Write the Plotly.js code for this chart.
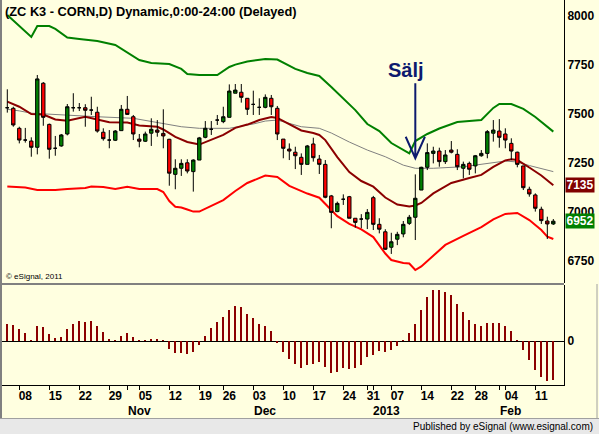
<!DOCTYPE html>
<html><head><meta charset="utf-8">
<script src="https://cdn.plot.ly/plotly-3.0.1.min.js"></script>
<style>html,body{margin:0;padding:0;background:#FFFFE0;}#chart{width:599px;height:434px;}</style>
</head><body><div id="chart"></div>
<script>
// ---- DATA (daily ZC K3 candles, index 0 = Oct 3 2012 ... 91 = Feb 13 2013) ----
const opens  = [7531,7528,7426,7366,7361,7329,7656,7446,7324,7336,7397,7531,7531,7531,7519,7508,7406,7366,7365,7414,7523,7485,7371,7360,7401,7417,7400,7370,7191,7222,7250,7205,7264,7380,7421,7468,7460,7482,7605,7610,7579,7548,7533,7533,7579,7528,7371,7320,7304,7278,7242,7346,7269,7242,7081,7001,7064,7077,6967,6963,6963,7072,6936,6898,6819,6860,6887,6941,6972,7111,7227,7298,7310,7256,7315,7293,7222,7247,7234,7286,7298,7401,7412,7397,7349,7304,7234,7115,7086,7013,6953,6938];
const highs  = [7625,7536,7434,7428,7380,7698,7662,7450,7387,7397,7550,7605,7555,7549,7587,7536,7426,7417,7417,7545,7591,7494,7397,7409,7477,7468,7523,7372,7268,7268,7268,7268,7382,7463,7463,7494,7536,7650,7652,7652,7579,7618,7579,7599,7596,7540,7371,7349,7332,7298,7341,7378,7290,7264,7086,7052,7089,7081,6967,6988,7014,7081,6967,6911,6893,6898,6953,6984,7191,7230,7349,7332,7327,7315,7361,7319,7256,7256,7290,7315,7417,7468,7473,7426,7375,7307,7234,7128,7094,7026,6975,6963];
const lows   = [7506,7434,7349,7353,7281,7293,7439,7271,7286,7332,7390,7511,7514,7434,7494,7404,7363,7324,7361,7414,7494,7366,7329,7356,7336,7383,7324,7133,7115,7183,7196,7103,7264,7375,7392,7443,7452,7482,7605,7557,7494,7494,7494,7528,7494,7366,7273,7264,7218,7188,7242,7256,7193,7069,6916,6998,7035,6967,6919,6916,6912,6907,6890,6805,6785,6830,6870,6933,6856,7111,7213,7247,7230,7244,7298,7213,7171,7188,7196,7281,7273,7358,7327,7324,7264,7227,7111,7077,7001,6938,6861,6933];
const closes = [7531,7443,7366,7366,7329,7678,7482,7319,7324,7392,7536,7531,7531,7518,7519,7412,7373,7366,7412,7523,7497,7397,7360,7397,7421,7406,7387,7197,7222,7247,7208,7264,7377,7426,7421,7468,7485,7616,7621,7584,7523,7548,7533,7584,7536,7397,7324,7310,7286,7242,7336,7276,7242,7074,6997,7043,7064,6967,6946,6963,6997,6936,6911,6809,6847,6885,6936,6972,7069,7227,7302,7310,7256,7290,7304,7230,7242,7217,7286,7298,7409,7417,7380,7366,7310,7242,7123,7091,7018,6955,6938,6952];

// Upper band (green), read at these candle indices
const upperIdx = [0,4,5,7,8,10,12,15,18,21,22,24,27,29,30,32,35,37,38,40,43,45,48,50,52,54,56,58,60,62,64,66,67,68,70,72,75,78,79,81,82,84,86,88,90,91];
const upperVal = [8004,7892,7948,7948,7933,7889,7882,7871,7851,7795,7774,7759,7754,7729,7703,7698,7698,7739,7751,7767,7780,7777,7729,7708,7693,7637,7576,7519,7448,7412,7351,7313,7298,7361,7397,7425,7458,7466,7468,7530,7550,7550,7525,7484,7433,7409];
// Lower band (red)
const lowerIdx = [0,3,5,8,10,13,14,16,18,20,22,25,26,27,28,29,30,31,32,34,36,38,40,43,45,47,50,52,53,55,57,59,61,63,64,66,67,68,69,71,73,76,79,81,83,85,87,89,90,91];
const lowerVal = [7129,7124,7111,7111,7116,7121,7129,7127,7116,7128,7116,7116,7101,7055,7026,7022,7012,7001,7001,7030,7060,7106,7147,7185,7178,7132,7093,7072,7040,6978,6938,6910,6871,6787,6754,6739,6736,6703,6721,6774,6831,6877,6922,6961,6989,6994,6958,6907,6873,6861];
// Middle average (maroon)
const midIdx = [0,2,4,6,8,10,13,15,17,20,22,25,26,28,30,32,34,36,38,40,42,44,45,47,49,51,52,53,55,57,59,61,63,65,67,68,69,71,74,77,79,81,83,84,85,87,89,91];
const midVal = [7562,7536,7499,7496,7471,7465,7485,7471,7457,7455,7440,7434,7420,7382,7356,7343,7366,7392,7428,7445,7468,7484,7479,7445,7415,7402,7392,7366,7279,7203,7157,7128,7073,7037,7027,7032,7045,7094,7147,7172,7188,7229,7262,7268,7264,7226,7185,7135];
// Slow average (grey)
const slowIdx = [0,2,4,7,10,15,21,26,29,32,37,41,43,45,49,52,54,57,60,63,66,68,71,76,80,83,85,87,91];
const slowVal = [7523,7515,7503,7498,7490,7485,7477,7451,7434,7426,7426,7448,7463,7468,7434,7426,7402,7356,7315,7281,7238,7222,7222,7230,7247,7259,7254,7236,7205];

// Oscillator histogram (lower panel), one value per candle
const oscVal = [50,47,35,23,5,44,41,20,11,14,35,50,59,56,59,44,26,8,5,17,23,14,5,5,8,8,5,-24,-36,-36,-39,-33,-10,17,38,56,71,92,104,101,80,68,50,44,29,-4,-33,-54,-69,
  -80,-70,-67,-62,-77,-93,-90,-80,-81,-80,-70,-48,-40,-30,-33,-27,-15,5,23,50,92,131,152,152,146,137,110,86,62,50,44,53,55,53,44,29,5,-27,-57,-85,-105,-117,-115];

// Axis labels
const tickIdx  = [3,8,13,18,23,28,33,37,42,47,52,57,61,65,70,75,79,84,89];
const tickText = ['08','15','22','29','05','12','19','26','03','10','17','24','31','07','14','22','28','04','11'];
const weekTickIdx = [2,7,12,17,20,22,27,32,36,41,46,51,56,60,61,64,69,74,78,82,83,88];
const monthLabels = ['Nov','Dec','2013','Feb'];
const monthIdx = [22,43,63.2,83.9];
const priceTicks = [6750,7000,7250,7500,7750,8000];

// ---- LAYOUT helpers ----
const W=599,H=434,ML=2,MR=35,MT=0,MB=49;
const PW=W-ML-MR, PH=H-MT-MB;
const px = x => (x-ML)/PW;
const py = y => (PH+MT-y)/PH;
const FONT = 'Arial, "Liberation Sans", sans-serif';
const idx = opens.map((_,i)=>i);

const traces = [
  {type:'scatter',mode:'lines',x:slowIdx,y:slowVal,line:{color:'#808080',width:1},xaxis:'x',yaxis:'y',hoverinfo:'skip'},
  {type:'scatter',mode:'lines',x:upperIdx,y:upperVal,line:{color:'#008000',width:2},xaxis:'x',yaxis:'y',hoverinfo:'skip'},
  {type:'scatter',mode:'lines',x:lowerIdx,y:lowerVal,line:{color:'#FF0000',width:2},xaxis:'x',yaxis:'y',hoverinfo:'skip'},
  {type:'scatter',mode:'lines',x:midIdx,y:midVal,line:{color:'#8B0000',width:2},xaxis:'x',yaxis:'y',hoverinfo:'skip'},
  {type:'candlestick',x:idx,open:opens,high:highs,low:lows,close:closes,xaxis:'x',yaxis:'y3',
   increasing:{line:{color:'#000000',width:1},fillcolor:'#008000'},
   decreasing:{line:{color:'#000000',width:1},fillcolor:'#FF0000'},whiskerwidth:0,hoverinfo:'skip'},
  {type:'bar',x:idx,y:oscVal,width:0.34,marker:{color:'#8B0000',line:{width:0}},xaxis:'x',yaxis:'y2',hoverinfo:'skip'}
];

const yMain=[6636.7,8080.6];
const lastMid = midVal[midVal.length-1], lastClose = closes[closes.length-1];
const sig = {idx:68, top:7656, tip:7273, arm:7383, armDx:1.6, textIdx:66.4, textPrice:7723};

const layout = {
  width:W,height:H,margin:{l:ML,r:MR,t:MT,b:MB,pad:0},
  paper_bgcolor:'#FFFFE0',plot_bgcolor:'#FFFFE0',showlegend:false,boxgap:0.2,bargap:0,
  font:{family:FONT,color:'#000'},
  xaxis:{range:[-0.883,92.78],anchor:'y2',showgrid:false,zeroline:false,showline:true,linecolor:'#000',linewidth:1,
    tickmode:'array',tickvals:tickIdx,ticktext:tickText,ticks:'',tickfont:{family:FONT,size:12,weight:700,color:'#000'},
    minor:{tickmode:'array',tickvals:weekTickIdx,ticks:'outside',ticklen:4,tickcolor:'#000',tickwidth:1,showgrid:false},
    rangeslider:{visible:false},fixedrange:true},
  yaxis:{domain:[py(283),1],range:yMain,side:'right',showgrid:false,zeroline:false,showline:true,linecolor:'#000',linewidth:1,
    tickmode:'array',tickvals:priceTicks,ticks:'',tickfont:{family:FONT,size:12,weight:700,color:'#000'}},
  yaxis3:{overlaying:'y',range:yMain,visible:false},
  yaxis2:{domain:[0,py(285)],range:[-130,167],side:'right',showgrid:false,showline:true,linecolor:'#000',linewidth:1,
    zeroline:true,zerolinecolor:'#000',zerolinewidth:1,
    tickmode:'array',tickvals:[0],ticks:'',tickfont:{family:FONT,size:12,weight:700,color:'#000'}},
  shapes:[
    {type:'line',xref:'paper',yref:'paper',x0:px(0),x1:px(564),y0:py(284),y1:py(284),line:{color:'#808080',width:2}},
    {type:'line',xref:'paper',yref:'paper',x0:px(1),x1:px(1),y0:py(0),y1:py(418),line:{color:'#808080',width:2}},
    {type:'rect',xref:'paper',yref:'paper',x0:px(0),x1:px(599),y0:py(419),y1:py(434),fillcolor:'#E8E8E8',line:{width:0}},
    {type:'line',xref:'paper',yref:'paper',x0:px(0),x1:px(599),y0:py(418.5),y1:py(418.5),line:{color:'#A0A0A0',width:1}},
    {type:'line',xref:'paper',yref:'paper',x0:px(597),x1:px(597),y0:py(284),y1:py(418),line:{color:'#A0A0A0',width:1}},
    {type:'path',xref:'x',yref:'y',
     path:`M${sig.idx},${sig.top} L${sig.idx},${sig.tip} M${sig.idx-sig.armDx},${sig.arm} L${sig.idx},${sig.tip} L${sig.idx+sig.armDx},${sig.arm}`,
     line:{color:'#0D1A6E',width:2}}
  ],
  annotations:[
    {xref:'paper',yref:'paper',x:px(3),y:py(11),xanchor:'left',yanchor:'middle',showarrow:false,
     text:'<b>(ZC K3 - CORN,D) Dynamic,0:00-24:00 (Delayed)</b>',font:{family:FONT,size:12.8,color:'#000'}},
    {xref:'paper',yref:'paper',x:px(4),y:py(276),xanchor:'left',yanchor:'middle',showarrow:false,
     text:'© eSignal, 2011',font:{family:FONT,size:8,color:'#000'}},
    {xref:'x',yref:'y',x:sig.textIdx,y:sig.textPrice,xanchor:'center',yanchor:'middle',showarrow:false,
     text:'Sälj',font:{family:FONT,size:20,weight:700,color:'#0D1A6E'}},
    {xref:'paper',yref:'y',x:1,y:lastMid,xanchor:'left',yanchor:'middle',xshift:1,showarrow:false,
     text:String(lastMid),bgcolor:'#800000',width:28,height:14,borderpad:0,font:{family:FONT,size:12,weight:700,color:'#FFFFFF'}},
    {xref:'paper',yref:'y',x:1,y:lastClose,xanchor:'left',yanchor:'middle',xshift:1,showarrow:false,
     text:String(lastClose),bgcolor:'#008000',width:28,height:14,borderpad:0,font:{family:FONT,size:12,weight:700,color:'#FFFFFF'}},
    {xref:'paper',yref:'paper',x:px(595),y:py(426.5),xanchor:'right',yanchor:'middle',showarrow:false,
     text:'Published by eSignal (www.esignal.com)',font:{family:FONT,size:10,color:'#000'}}
  ].concat(monthLabels.map((m,i)=>({xref:'x',yref:'paper',x:monthIdx[i],y:py(411),xanchor:'center',yanchor:'middle',showarrow:false,
     text:m,font:{family:FONT,size:12,weight:700,color:'#000'}})))
};

Plotly.newPlot('chart',traces,layout,{staticPlot:true,displayModeBar:false});
</script></body></html>
